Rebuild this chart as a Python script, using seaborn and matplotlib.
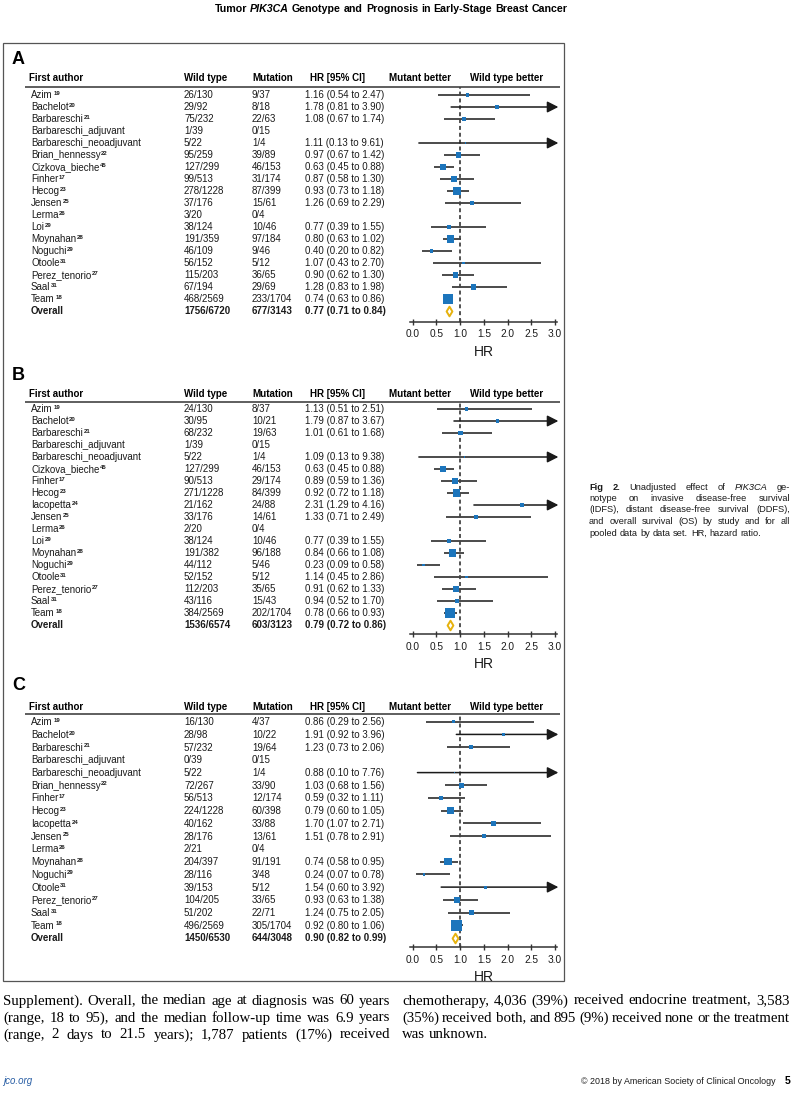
import numpy as np
import pandas as pd
import matplotlib
matplotlib.use("Agg")
import matplotlib.pyplot as plt
import seaborn as sns
from matplotlib import font_manager
from matplotlib.patches import Rectangle

W, H = 792, 1095
nan = np.nan

# superscript reference numbers
REFS = {"Azim": "19", "Bachelot": "20", "Barbareschi": "21", "Brian_hennessy": "22",
        "Cizkova_bieche": "45", "Finher": "17", "Hecog": "23", "Iacopetta": "24",
        "Jensen": "25", "Lerma": "26", "Loi": "29", "Moynahan": "28", "Noguchi": "29",
        "Otoole": "31", "Perez_tenorio": "27", "Saal": "31", "Team": "18"}

# A - IDFS
A_AUTHORS = ["Azim", "Bachelot", "Barbareschi", "Barbareschi_adjuvant", "Barbareschi_neoadjuvant",
             "Brian_hennessy", "Cizkova_bieche", "Finher", "Hecog", "Jensen", "Lerma", "Loi",
             "Moynahan", "Noguchi", "Otoole", "Perez_tenorio", "Saal", "Team", "Overall"]
A_WT = ["26/130", "29/92", "75/232", "1/39", "5/22", "95/259", "127/299", "99/513", "278/1228",
        "37/176", "3/20", "38/124", "191/359", "46/109", "56/152", "115/203", "67/194",
        "468/2569", "1756/6720"]
A_MUT = ["9/37", "8/18", "22/63", "0/15", "1/4", "39/89", "46/153", "31/174", "87/399", "15/61",
         "0/4", "10/46", "97/184", "9/46", "5/12", "36/65", "29/69", "233/1704", "677/3143"]
A_HR = [1.16, 1.78, 1.08, nan, 1.11, 0.97, 0.63, 0.87, 0.93, 1.26, nan, 0.77, 0.80, 0.40,
        1.07, 0.90, 1.28, 0.74, 0.77]
A_LO = [0.54, 0.81, 0.67, nan, 0.13, 0.67, 0.45, 0.58, 0.73, 0.69, nan, 0.39, 0.63, 0.20,
        0.43, 0.62, 0.83, 0.63, 0.71]
A_HI = [2.47, 3.90, 1.74, nan, 9.61, 1.42, 0.88, 1.30, 1.18, 2.29, nan, 1.55, 1.02, 0.82,
        2.70, 1.30, 1.98, 0.86, 0.84]

# B - DDFS
B_AUTHORS = ["Azim", "Bachelot", "Barbareschi", "Barbareschi_adjuvant", "Barbareschi_neoadjuvant",
             "Cizkova_bieche", "Finher", "Hecog", "Iacopetta", "Jensen", "Lerma", "Loi",
             "Moynahan", "Noguchi", "Otoole", "Perez_tenorio", "Saal", "Team", "Overall"]
B_WT = ["24/130", "30/95", "68/232", "1/39", "5/22", "127/299", "90/513", "271/1228", "21/162",
        "33/176", "2/20", "38/124", "191/382", "44/112", "52/152", "112/203", "43/116",
        "384/2569", "1536/6574"]
B_MUT = ["8/37", "10/21", "19/63", "0/15", "1/4", "46/153", "29/174", "84/399", "24/88", "14/61",
         "0/4", "10/46", "96/188", "5/46", "5/12", "35/65", "15/43", "202/1704", "603/3123"]
B_HR = [1.13, 1.79, 1.01, nan, 1.09, 0.63, 0.89, 0.92, 2.31, 1.33, nan, 0.77, 0.84, 0.23,
        1.14, 0.91, 0.94, 0.78, 0.79]
B_LO = [0.51, 0.87, 0.61, nan, 0.13, 0.45, 0.59, 0.72, 1.29, 0.71, nan, 0.39, 0.66, 0.09,
        0.45, 0.62, 0.52, 0.66, 0.72]
B_HI = [2.51, 3.67, 1.68, nan, 9.38, 0.88, 1.36, 1.18, 4.16, 2.49, nan, 1.55, 1.08, 0.58,
        2.86, 1.33, 1.70, 0.93, 0.86]

# C - OS
C_AUTHORS = ["Azim", "Bachelot", "Barbareschi", "Barbareschi_adjuvant", "Barbareschi_neoadjuvant",
             "Brian_hennessy", "Finher", "Hecog", "Iacopetta", "Jensen", "Lerma", "Moynahan",
             "Noguchi", "Otoole", "Perez_tenorio", "Saal", "Team", "Overall"]
C_WT = ["16/130", "28/98", "57/232", "0/39", "5/22", "72/267", "56/513", "224/1228", "40/162",
        "28/176", "2/21", "204/397", "28/116", "39/153", "104/205", "51/202", "496/2569",
        "1450/6530"]
C_MUT = ["4/37", "10/22", "19/64", "0/15", "1/4", "33/90", "12/174", "60/398", "33/88", "13/61",
         "0/4", "91/191", "3/48", "5/12", "33/65", "22/71", "305/1704", "644/3048"]
C_HR = [0.86, 1.91, 1.23, nan, 0.88, 1.03, 0.59, 0.79, 1.70, 1.51, nan, 0.74, 0.24, 1.54,
        0.93, 1.24, 0.92, 0.90]
C_LO = [0.29, 0.92, 0.73, nan, 0.10, 0.68, 0.32, 0.60, 1.07, 0.78, nan, 0.58, 0.07, 0.60,
        0.63, 0.75, 0.80, 0.82]
C_HI = [2.56, 3.96, 2.06, nan, 7.76, 1.56, 1.11, 1.05, 2.71, 2.91, nan, 0.95, 0.78, 3.92,
        1.38, 2.05, 1.06, 0.99]

X_TICKS = [0.0, 0.5, 1.0, 1.5, 2.0, 2.5, 3.0]

TITLE = [("Tumor", "bold", "normal"), ("PIK3CA", "bold", "italic"),
         ("Genotype and Prognosis in Early-Stage Breast Cancer", "bold", "normal")]
CAPTION = [
    "Fig 2.| Unadjusted effect of |PIK3CA| ge-",
    "notype on invasive disease-free survival",
    "(IDFS), distant disease-free survival (DDFS),",
    "and overall survival (OS) by study and for all",
    "pooled data by data set. HR, hazard ratio.",
]
BODY_LEFT = [
    "Supplement). Overall, the median age at diagnosis was 60 years",
    "(range, 18 to 95), and the median follow-up time was 6.9 years",
    "(range, 2 days to 21.5 years); 1,787 patients (17%) received",
]
BODY_RIGHT = [
    "chemotherapy, 4,036 (39%) received endocrine treatment, 3,583",
    "(35%) received both, and 895 (9%) received none or the treatment",
    "was unknown.",
]

sns.set_theme(style="white")
SANS = ["Liberation Sans", "DejaVu Sans"]
SERIF = ["Liberation Serif", "DejaVu Serif"]
have = {f.name for f in font_manager.fontManager.ttflist}
if "Liberation Sans Narrow" in have:
    NARROW, NSCALE = ["Liberation Sans Narrow", "Liberation Sans"], 1.0
else:
    NARROW, NSCALE = SANS, 0.84
plt.rcParams["font.family"] = SANS

INK = "#1a1a1a"
BLUE = "#1c75bc"
GOLD = "#e6b20e"

fig = plt.figure(figsize=(W / 100, H / 100), dpi=100)
page = fig.add_axes([0, 0, 1, 1])
page.set_xlim(0, W)
page.set_ylim(H, 0)
page.axis("off")
renderer = fig.canvas.get_renderer()


def text_width(s, **kw):
    t = page.text(0, 0, s, **kw)
    w = t.get_window_extent(renderer).width
    t.remove()
    return w


def put_words(segs, y, x0=None, x1=None, center=None, size=7, family=SANS, color=INK):
    # segs: list of (text, weight, style); justified if x1 is given
    widths = [text_width(s, fontsize=size, family=family, fontweight=wt, fontstyle=st)
              for s, wt, st in segs]
    space = text_width("n n", fontsize=size, family=family) - text_width("nn", fontsize=size, family=family)
    if x1 is not None and len(segs) > 1:
        gap = max((x1 - x0 - sum(widths)) / (len(segs) - 1), 1.0)
    else:
        gap = space
    if center is not None:
        x0 = center - (sum(widths) + gap * (len(segs) - 1)) / 2
    x = x0
    for (s, wt, st), w in zip(segs, widths):
        page.text(x, y, s, fontsize=size, family=family, fontweight=wt, fontstyle=st,
                  color=color, ha="left", va="center")
        x += w + gap


def plain(s, weight="normal", style="normal"):
    return [(w, weight, style) for w in s.split()]


def draw_panel(letter, authors, wt, mut, hr, lo, hi, lay):
    n = len(authors)
    sp = (lay["last"] - lay["first"]) / (n - 1)
    rows = lay["first"] + sp * np.arange(n)

    page.text(12, lay["letter"], letter, fontsize=13, fontweight="bold", color="black", va="center")
    hy = lay["head"] + 3.4
    for x, lab in [(29, "First author"), (184, "Wild type"), (252, "Mutation"),
                   (310, "HR [95% CI]"), (389, "Mutant better"), (470, "Wild type better")]:
        page.text(x, hy, lab, fontsize=7, fontweight="bold", color="black", va="baseline")
    page.plot([25, 560], [lay["line"]] * 2, color="#333333", lw=1.1, solid_capstyle="butt")

    for i, name in enumerate(authors):
        y = rows[i] + 3.4
        bold = "bold" if name == "Overall" else "normal"
        page.text(31, y, name, fontsize=7, fontweight=bold, color=INK, va="baseline")
        if name in REFS:
            w = text_width(name, fontsize=7)
            page.text(31 + w + 0.6, y - 3.3, REFS[name], fontsize=4.3, fontweight="bold",
                      color=INK, va="baseline")
        page.text(184, y, wt[i], fontsize=7, fontweight=bold, color=INK, va="baseline")
        page.text(252, y, mut[i], fontsize=7, fontweight=bold, color=INK, va="baseline")
        if not np.isnan(hr[i]):
            page.text(305, y, f"{hr[i]:.2f} ({lo[i]:.2f} to {hi[i]:.2f})", fontsize=7,
                      fontweight=bold, color=INK, va="baseline")

    # forest axes: pixel span 410..557 horizontally, header line..axis line vertically
    ax = fig.add_axes([410 / W, 1 - lay["axis"] / H, 147 / W, (lay["axis"] - lay["line"]) / H])
    ax.patch.set_alpha(0)

    df = pd.DataFrame({"author": authors, "hr": hr, "lo": lo, "hi": hi, "row": np.arange(n)})
    studies = df[(df["author"] != "Overall") & df["hr"].notna()].copy()
    se = (np.log(studies["hi"]) - np.log(studies["lo"])) / 3.92
    side_px = 1.75 * (1 / se ** 2) ** 0.35
    studies["s"] = (side_px * 0.72) ** 2

    for _, r in studies.iterrows():
        if r["hi"] > 3.0:
            ax.annotate("", xy=(3.07, r["row"]), xytext=(r["lo"], r["row"]),
                        arrowprops=dict(arrowstyle="-|>,head_length=0.55,head_width=0.28",
                                        color=INK, lw=1.1, shrinkA=0, shrinkB=0),
                        annotation_clip=False)
        else:
            ax.hlines(r["row"], r["lo"], r["hi"], color=INK, lw=1.1)

    ax.axvline(1.0, color="#444444", lw=1.3, ls=(0, (2.2, 1.6)), zorder=2)
    sns.scatterplot(data=studies, x="hr", y="row", marker="s", s=studies["s"].to_numpy(),
                    color=BLUE, linewidth=0, zorder=3, legend=False, ax=ax)
    overall = df[df["author"] == "Overall"]
    sns.scatterplot(data=overall, x="hr", y="row", marker="d", s=24, color="white",
                    edgecolor=GOLD, linewidth=1.4, zorder=4, legend=False, ax=ax)

    ax.set_xlim(-0.057, 3.042)
    ax.set_ylim((lay["axis"] - lay["first"]) / sp, (lay["line"] - lay["first"]) / sp)
    ax.set_xticks(X_TICKS)
    ax.set_xticklabels([f"{t:.1f}" for t in X_TICKS])
    ax.set_yticks([])
    ax.set_xlabel("")
    ax.set_ylabel("")
    for side in ["left", "right", "top"]:
        ax.spines[side].set_visible(False)
    ax.spines["bottom"].set_color("#333333")
    ax.spines["bottom"].set_linewidth(1.1)
    ax.tick_params(axis="x", direction="inout", length=4, width=1.0, color="#333333",
                   labelsize=7.3, labelcolor=INK, pad=3.3, bottom=True)
    page.text(484, lay["axis"] + 29.5, "HR", fontsize=10, color=INK, ha="center", va="center")


# page furniture
put_words(TITLE[:1] + TITLE[1:2] + plain(TITLE[2][0], "bold"), 9, center=391,
          size=9.1 * NSCALE, family=NARROW, color="black")
page.add_patch(Rectangle((3, 42.5), 560.5, 938, fill=False, ec="#555555", lw=0.9))

draw_panel("A", A_AUTHORS, A_WT, A_MUT, A_HR, A_LO, A_HI,
           dict(letter=60, head=78, line=87.3, first=95, last=311, axis=322))
draw_panel("B", B_AUTHORS, B_WT, B_MUT, B_HR, B_LO, B_HI,
           dict(letter=375, head=394, line=401.7, first=409, last=625, axis=634.3))
draw_panel("C", C_AUTHORS, C_WT, C_MUT, C_HR, C_LO, C_HI,
           dict(letter=686, head=706.5, line=714, first=721.7, last=938, axis=947.3))

# caption
cap_y = [487, 498.5, 510, 521.5, 533]
for i, line in enumerate(CAPTION):
    if i == 0:
        a, b, c, d = line.split("|")
        segs = plain(a, "bold") + plain(b) + plain(c, style="italic") + plain(d)
    else:
        segs = plain(line)
    put_words(segs, cap_y[i], x0=589, x1=None if i == len(CAPTION) - 1 else 790,
              size=7.9 * NSCALE, family=NARROW)

# body text
for i, line in enumerate(BODY_LEFT):
    put_words(plain(line), 1001 + 17 * i, x0=3, x1=390, size=10.7, family=SERIF, color="black")
for i, line in enumerate(BODY_RIGHT):
    put_words(plain(line), 1001 + 17 * i, x0=402, x1=None if i == 2 else 790,
              size=10.7, family=SERIF, color="black")

# footer
page.text(3, 1081, "jco.org", fontsize=7, fontstyle="italic", color="#2a5fa5", va="center")
page.text(776, 1081, "© 2018 by American Society of Clinical Oncology", fontsize=7.6 * NSCALE,
          family=NARROW, color=INK, ha="right", va="center")
page.text(790, 1081, "5", fontsize=7.6, fontweight="bold", color="black", ha="right", va="center")

fig.savefig("out.png", dpi=100)
